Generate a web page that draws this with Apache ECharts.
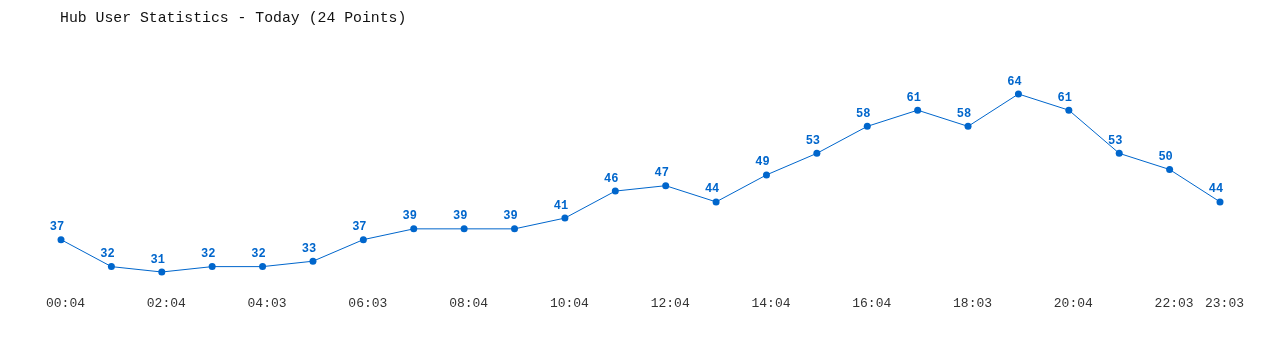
<!DOCTYPE html>
<html>
<head>
<meta charset="utf-8">
<script src="https://cdn.jsdelivr.net/npm/echarts@6/dist/echarts.min.js"></script>
<style>
html,body{margin:0;padding:0;background:#fff;}
#chart{width:1280px;height:350px;}
</style>
</head>
<body>
<div id="chart"></div>
<script>
const titleText = "Hub User Statistics - Today (24 Points)";
const categories = ["00:04","01:04","02:04","03:04","04:03","05:04","06:03","07:04","08:04","09:04","10:04","11:04","12:04","13:04","14:04","15:04","16:04","17:04","18:03","19:04","20:04","21:04","22:03","23:03"];
const users = [37,32,31,32,32,33,37,39,39,39,41,46,47,44,49,53,58,61,58,64,61,53,50,44];

const chart = echarts.init(document.getElementById('chart'), null, {renderer:'canvas'});
const mono = '"Liberation Mono", "DejaVu Sans Mono", monospace';
chart.setOption({
  animation: false,
  backgroundColor: '#ffffff',
  title: {
    text: titleText,
    left: 55, top: 6,
    textStyle: {fontFamily: mono, fontSize: 14.8, fontWeight: 'normal', color: '#111'}
  },
  grid: {left: 61, right: 60, top: 88.6, bottom: 72.6, containLabel: false},
  xAxis: {
    type: 'category',
    data: categories,
    boundaryGap: false,
    axisLine: {show: false},
    axisTick: {show: false},
    splitLine: {show: false},
    axisLabel: {
      interval: (i) => i % 2 === 0 || i === categories.length - 1,
      margin: 20,
      padding: [0, 0, 0, 9],
      fontFamily: mono, fontSize: 13, color: '#333'
    }
  },
  yAxis: {
    type: 'value',
    min: 30, max: 65,
    show: false,
    splitLine: {show: false}
  },
  series: [{
    type: 'line',
    data: users,
    symbol: 'circle',
    symbolSize: 7,
    lineStyle: {color: '#0066cc', width: 1},
    itemStyle: {color: '#0066cc'},
    label: {
      show: true, position: 'top', distance: 5, offset: [-4, 2],
      fontFamily: mono, fontSize: 12, fontWeight: 'bold', color: '#0066cc'
    }
  }]
});
</script>
</body>
</html>
